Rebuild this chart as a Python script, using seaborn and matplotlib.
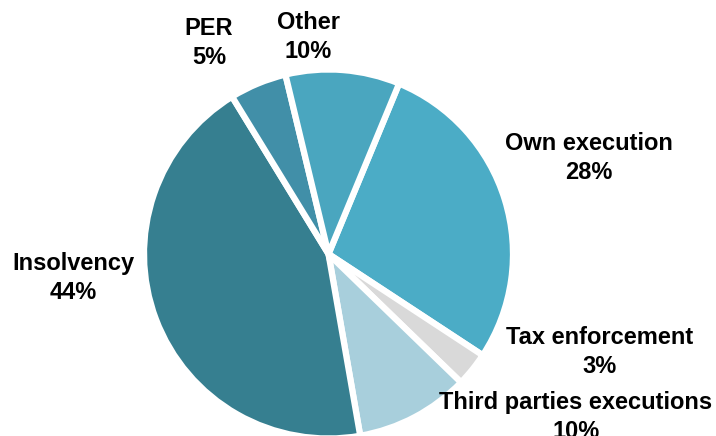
import matplotlib
matplotlib.use("Agg")
import matplotlib.pyplot as plt
import seaborn as sns

# Share of proceedings by type (%), listed clockwise from the top
categories = ["Own execution", "Tax enforcement", "Third parties executions",
              "Insolvency", "PER", "Other"]
shares = [28, 3, 10, 44, 5, 10]
colors = ["#4BACC6", "#D9D9D9", "#A8CFDC", "#367F90", "#418FA8", "#4AA6BF"]

# Label centres in figure pixels (from the top-left corner)
label_px = [(589, 158), (600, 352), (576, 417), (73, 278), (209, 43), (308, 37)]

sns.set_style("white")
plt.rcParams["font.family"] = ["Liberation Sans", "DejaVu Sans"]

W, H = 716, 436
fig = plt.figure(figsize=(W / 100, H / 100), dpi=100)
ax = fig.add_axes([0, 0, 1, 1])

# pie geometry in pixels
cx, cy, R = 328.5, 182.0, 184.5

ax.pie(shares, colors=colors, startangle=67.5, counterclock=False,
       radius=1.0, wedgeprops=dict(edgecolor="white", linewidth=4.5))
ax.set_aspect("auto")
ax.set_xlim(-cx / R, (W - cx) / R)
ax.set_ylim(-cy / R, (H - cy) / R)
ax.axis("off")

for name, val, (px, py) in zip(categories, shares, label_px):
    fig.text(px / W, 1 - py / H, f"{name}\n{val}%", ha="center", va="center",
             fontsize=17, fontweight="bold", color="black", linespacing=1.3)

fig.savefig("out.png", dpi=100, facecolor="white")
